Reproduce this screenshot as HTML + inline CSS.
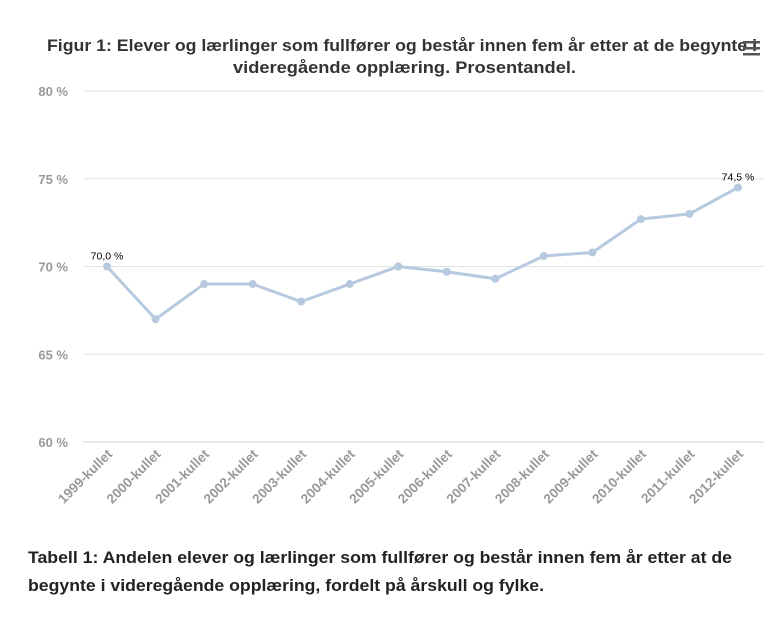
<!DOCTYPE html>
<html><head><meta charset="utf-8"><style>
body{margin:0;background:#fff;font-family:"Liberation Sans",sans-serif;}
#wrap{position:relative;width:784px;height:624px;overflow:hidden;}
</style></head><body><div id="wrap">
<svg width="784" height="624" style="position:absolute;left:0;top:0">
<text x="47" y="51" textLength="710" lengthAdjust="spacingAndGlyphs" font-size="17" font-weight="bold" fill="#333">Figur 1: Elever og lærlinger som fullfører og består innen fem år etter at de begynte i</text>
<text x="233" y="73" textLength="343" lengthAdjust="spacingAndGlyphs" font-size="17" font-weight="bold" fill="#333">videregående opplæring. Prosentandel.</text>
<g><rect x="743" y="41" width="17" height="2.5" fill="#555"/><rect x="743" y="47" width="17" height="2.5" fill="#555"/><rect x="743" y="53" width="17" height="2.5" fill="#555"/></g>
<g id="grid"></g><g id="xl"></g><g id="series"></g>
<text x="28" y="563" textLength="704" lengthAdjust="spacingAndGlyphs" font-size="17" font-weight="bold" fill="#222">Tabell 1: Andelen elever og lærlinger som fullfører og består innen fem år etter at de</text>
<text x="28" y="591" textLength="516" lengthAdjust="spacingAndGlyphs" font-size="17" font-weight="bold" fill="#222">begynte i videregående opplæring, fordelt på årskull og fylke.</text>
</svg></div>
<script>
const categories=["1999-kullet","2000-kullet","2001-kullet","2002-kullet","2003-kullet","2004-kullet","2005-kullet","2006-kullet","2007-kullet","2008-kullet","2009-kullet","2010-kullet","2011-kullet","2012-kullet"];
const values=[70.0,67.0,69.0,69.0,68.0,69.0,70.0,69.7,69.3,70.6,70.8,72.7,73.0,74.5];
const yTicks=[60,65,70,75,80];
const NS="http://www.w3.org/2000/svg";
const y=v=>442-(v-60)*(351/20);
const x=i=>107+i*(738-107)/(categories.length-1);
function mk(t,a,p){const e=document.createElementNS(NS,t);for(const k in a)e.setAttribute(k,a[k]);p.appendChild(e);return e;}
const g=document.getElementById('grid');
yTicks.forEach(v=>{
 const l=mk('line',{x1:83,x2:764,y1:y(v),y2:y(v),stroke:v===60?'#c8d3e6':'#e3e3e3','stroke-width':1},g);
 
 
 const t=mk('text',{x:68,y:y(v)+5,'text-anchor':'end','font-size':13,'font-weight':'bold',fill:'#999'},g);
 t.textContent=v+' %';
 
 
});
const xl=document.getElementById('xl');
categories.forEach((c,i)=>{
 const t=mk('text',{x:x(i)+6,y:455,'text-anchor':'end','font-size':13.5,'font-weight':'bold',fill:'#999',transform:`rotate(-45 ${x(i)+6} 455)`},xl);
 t.textContent=c;
 
 
});
const s=document.getElementById('series');
const pl=mk('polyline',{points:values.map((v,i)=>x(i)+','+y(v)).join(' '),fill:'none',stroke:'#b7c9df','stroke-width':3,'stroke-linejoin':'round'},s);


values.forEach((v,i)=>{
 const c=mk('circle',{cx:x(i),cy:y(v),r:4,fill:'#b7c9df'},s);
 
 
 if(i===0||i===values.length-1){
  const t=mk('text',{x:x(i),y:y(v)-7,'text-anchor':'middle','font-size':10.5,fill:'#000'},s);
  t.textContent=v.toFixed(1).replace('.',',')+' %';
  
  
 }
});
</script></body></html>
